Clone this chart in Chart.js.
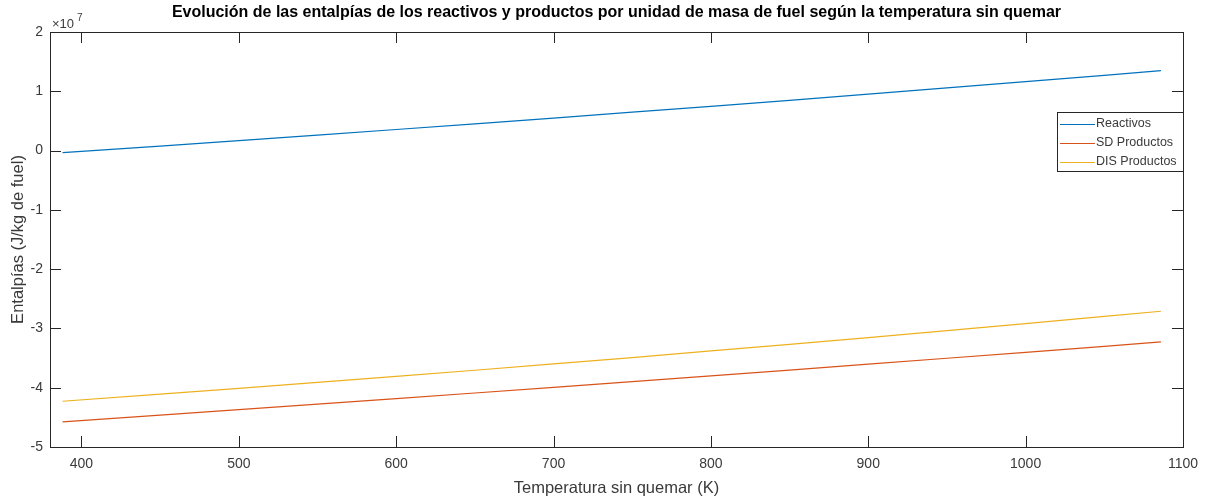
<!DOCTYPE html>
<html>
<head>
<meta charset="utf-8">
<script src="https://cdn.jsdelivr.net/npm/chart.js@4/dist/chart.umd.min.js"></script>
<style>
html, body { margin: 0; padding: 0; background: #fff; }
#wrap { width: 1207px; height: 501px; }
</style>
</head>
<body>
<div id="wrap"><canvas id="myChart"></canvas></div>
<script>
// temperaturas sin quemar (K)
const temperaturas = [388, 450, 500, 550, 600, 650, 700, 750, 800, 850, 900, 950, 1000, 1050, 1086];
// entalpias en unidades de 1e7 J/kg de fuel
const reactivos = [-0.035, 0.076, 0.168, 0.261, 0.355, 0.451, 0.548, 0.647, 0.747, 0.848, 0.951, 1.056, 1.162, 1.269, 1.347];
const sdProductos = [-4.577, -4.464, -4.371, -4.278, -4.184, -4.089, -3.994, -3.897, -3.800, -3.702, -3.603, -3.503, -3.403, -3.302, -3.228];
const disProductos = [-4.228, -4.109, -4.011, -3.911, -3.809, -3.705, -3.599, -3.491, -3.380, -3.268, -3.154, -3.037, -2.919, -2.798, -2.710];
const escala = 1e7;
const xTicks = [400, 500, 600, 700, 800, 900, 1000, 1100];
const yTicks = [-5, -4, -3, -2, -1, 0, 1, 2];
const nombres = ['Reactivos', 'SD Productos', 'DIS Productos'];
const colores = ['#0072BD', '#D95319', '#EDB120'];

const ejeColor = '#262626';
const textoColor = '#3a3a3a';
const fuente = '"Liberation Sans", Arial, Helvetica, sans-serif';

function puntos(serie) {
  return temperaturas.map((t, i) => ({x: t, y: serie[i] * escala}));
}

// caja, ticks hacia dentro, titulos y leyenda al estilo matlab
const estiloMatlab = {
  id: 'estiloMatlab',
  afterDraw(chart) {
    const ctx = chart.ctx;
    const a = chart.chartArea;
    const x = chart.scales.x, y = chart.scales.y;
    ctx.save();
    ctx.strokeStyle = ejeColor;
    ctx.lineWidth = 1;
    ctx.strokeRect(Math.round(a.left) + 0.5, Math.round(a.top) + 0.5,
      Math.round(a.right - a.left), Math.round(a.bottom - a.top));
    ctx.beginPath();
    x.ticks.forEach(t => {
      const px = Math.round(x.getPixelForValue(t.value)) + 0.5;
      ctx.moveTo(px, a.bottom); ctx.lineTo(px, a.bottom - 11);
      ctx.moveTo(px, a.top); ctx.lineTo(px, a.top + 11);
    });
    y.ticks.forEach(t => {
      const py = Math.round(y.getPixelForValue(t.value)) + 0.5;
      ctx.moveTo(a.left, py); ctx.lineTo(a.left + 11, py);
      ctx.moveTo(a.right, py); ctx.lineTo(a.right - 11, py);
    });
    ctx.stroke();

    // titulo
    ctx.fillStyle = '#000';
    ctx.font = 'bold 16px ' + fuente;
    ctx.textAlign = 'center';
    ctx.textBaseline = 'middle';
    ctx.fillText('Evolución de las entalpías de los reactivos y productos por unidad de masa de fuel según la temperatura sin quemar', (a.left + a.right) / 2, 13);

    // etiquetas de ejes
    ctx.fillStyle = textoColor;
    ctx.font = '16.5px ' + fuente;
    ctx.fillText('Temperatura sin quemar (K)', (a.left + a.right) / 2, 488);
    ctx.save();
    ctx.translate(18, (a.top + a.bottom) / 2);
    ctx.rotate(-Math.PI / 2);
    ctx.fillText('Entalpías (J/kg de fuel)', 0, 0);
    ctx.restore();

    // exponente
    ctx.textAlign = 'left';
    ctx.textBaseline = 'alphabetic';
    ctx.font = '13px ' + fuente;
    ctx.fillText('\u00d710', a.left + 2, 28);
    ctx.font = '10px ' + fuente;
    ctx.fillText('7', a.left + 27, 21);

    // leyenda
    const lw = 126, lh = 59;
    const lx = Math.round(a.right) - lw, ly = Math.round(a.top) + 80;
    ctx.fillStyle = '#fff';
    ctx.fillRect(lx, ly, lw, lh);
    ctx.strokeStyle = ejeColor;
    ctx.lineWidth = 1;
    ctx.strokeRect(lx + 0.5, ly + 0.5, lw, lh);
    ctx.font = '12.5px ' + fuente;
    ctx.textBaseline = 'middle';
    chart.data.datasets.forEach((ds, i) => {
      const ry = ly + 12 + i * 19;
      ctx.strokeStyle = ds.borderColor;
      ctx.lineWidth = 1.2;
      ctx.beginPath();
      ctx.moveTo(lx + 3, ry + 0.5); ctx.lineTo(lx + 38, ry + 0.5);
      ctx.stroke();
      ctx.fillStyle = textoColor;
      ctx.fillText(ds.label, lx + 39, ry);
    });
    ctx.restore();
  }
};

const ctx = document.getElementById('myChart');

new Chart(ctx, {
  type: 'line',
  data: {
    datasets: [reactivos, sdProductos, disProductos].map((serie, i) => ({
      label: nombres[i],
      data: puntos(serie),
      borderColor: colores[i],
      backgroundColor: colores[i],
      borderWidth: 1.2,
      pointRadius: 0,
      tension: 0,
      fill: false
    }))
  },
  options: {
    animation: false,
    responsive: true,
    maintainAspectRatio: false,
    layout: { padding: { top: 32, right: 24, left: 0, bottom: 0 } },
    plugins: {
      legend: { display: false },
      title: { display: false },
      tooltip: { enabled: false }
    },
    scales: {
      x: {
        type: 'linear',
        min: 380,
        max: 1100,
        grid: { display: false, drawTicks: false },
        border: { display: false },
        afterBuildTicks: s => { s.ticks = xTicks.map(v => ({value: v})); },
        afterFit: s => { s.height = 54; },
        ticks: {
          padding: 9,
          maxRotation: 0,
          color: textoColor,
          font: { family: fuente, size: 14 },
          callback: v => String(v)
        }
      },
      y: {
        min: yTicks[0] * escala,
        max: yTicks[yTicks.length - 1] * escala,
        grid: { display: false, drawTicks: false },
        border: { display: false },
        afterBuildTicks: s => { s.ticks = yTicks.map(v => ({value: v * escala})); },
        afterFit: s => { s.width = 50; },
        ticks: {
          padding: 7,
          color: textoColor,
          font: { family: fuente, size: 14 },
          callback: v => String(Math.round(v / escala))
        }
      }
    }
  },
  plugins: [estiloMatlab]
});
</script>
</body>
</html>
